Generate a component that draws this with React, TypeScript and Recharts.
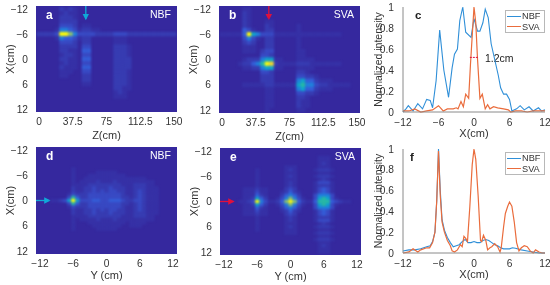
import React from "react";
import {
  ScatterChart, Scatter, LineChart, Line, XAxis, YAxis, CartesianGrid,
  ReferenceLine,
} from "recharts";

const FONT = "'Liberation Sans', Arial, sans-serif";
const TEXT = "#333333";
const NBF_COLOR = "#2f8fd8";
const SVA_COLOR = "#ea6c3c";
const CYAN = "#10a8d8";
const RED = "#e0103c";

const LEVELS: Record<string, string> = {
  "1": "#3631a6", "2": "#373cb2", "3": "#384ac4", "4": "#345ed8", "5": "#2080dc",
  "6": "#10a4cc", "7": "#28b8a4", "8": "#8cc070", "9": "#f4d82c", a: "#fbfb08",
};
const HEAT_BG = "#35289e";

const zTicks = [0, 37.5, 75, 112.5, 150];
const cmTicks = [-12, -6, 0, 6, 12];
const intensityTicks = [0, 0.2, 0.4, 0.6, 0.8, 1];

// rows run X = -12..12 in 1cm steps, columns Z = 0..150 in 5cm steps
const heatA = [
  "00000 2121 0 00 00000 0000 0000000000",
  "00000 1211 0 00 00000 0000 0000000000",
  "00000 2221 0 00 00000 0000 0000000000",
  "00000 2222 0 00 00000 0000 0000000000",
  "00000 3332 0 11 00000 0000 0000000000",
  "00001 5543 1 22 11000 0000 0000000000",
  "22223 aa85 3 33 32222 3332 2222222222",
  "00001 5443 1 22 00000 1110 0000000000",
  "00000 3332 0 22 00000 1110 0000000000",
  "00000 2222 0 33 00000 2221 0000000000",
  "00000 2211 0 44 00000 2221 0000000000",
  "00000 1221 0 33 00000 2221 0000000000",
  "00000 2211 0 44 00000 2222 0000000000",
  "00000 1211 0 33 00000 2222 0000000000",
  "00000 2111 0 44 00000 2222 0000000000",
  "00000 1110 0 33 00000 2221 0000000000",
  "00000 1100 0 22 00000 2221 0000000000",
  "00000 0000 0 22 00000 2221 0000000000",
  "00000 0000 0 11 00000 2221 0000000000",
  "00000 0000 0 00 00000 2211 0000000000",
  "00000 0000 0 00 00000 1210 0000000000",
  "00000 0000 0 00 00000 1110 0000000000",
  "00000 0000 0 00 00000 0000 0000000000",
  "00000 0000 0 00 00000 0000 0000000000",
  "00000 0000 0 00 00000 0000 0000000000",
];

const heatB = [
  "00000 1100 0 00 00000 0000 0000000000",
  "00000 2100 0 00 00000 0000 0000000000",
  "00000 2100 0 00 00000 0000 0000000000",
  "00000 2100 0 11 00000 0000 0000000000",
  "00000 2100 0 21 00000 1000 0000000000",
  "00000 4310 0 22 00000 1000 0000000000",
  "11111 4a65 3 33 11111 1111 1111110000",
  "00000 3531 0 22 00000 1000 0000000000",
  "00000 2320 0 22 00000 1000 0000000000",
  "00000 1110 0 22 00000 1000 0000000000",
  "00000 1110 2 33 00000 1100 0000000000",
  "00000 0000 3 32 00000 1100 0000000000",
  "00000 1222 5 66 11000 1111 0000000000",
  "00001 2245 7 a9 21111 2221 1111110000",
  "00000 1122 5 66 11000 1111 0000000000",
  "00000 0000 3 32 00000 2210 0000000000",
  "00000 0000 2 22 00000 3322 1000000000",
  "00000 0000 2 22 00000 5644 2111000000",
  "00000 1111 1 22 11111 6755 3221111100",
  "00000 0000 0 11 00000 5644 2111000000",
  "00000 0000 0 11 00000 3322 1000000000",
  "00000 0000 0 11 00000 2210 0000000000",
  "00000 0000 0 11 00000 2110 0000000000",
  "00000 0000 0 11 00000 2110 0000000000",
  "00000 0000 0 10 00000 1100 0000000000",
];

// rows run X = -12..12 and columns Y = -12..12, both in 0.75cm steps
const heatD = [
  "00000000000 00000000000 00000000000",
  "00000000000 00000000000 00000000000",
  "00000000000 00000000000 00000000000",
  "00000000000 00000000000 00000000000",
  "00000000000 00000000000 00000000000",
  "00000000000 00000000000 00000000000",
  "00000000100 00000000000 00000000000",
  "00000000100 00011111000 00000000000",
  "00000000100 01111111110 00000000000",
  "00000000100 11111111111 11110000000",
  "00000000101 11121112111 11111100000",
  "00000000111 12222222211 12221100000",
  "00000000211 22322232221 12221110000",
  "00000000211 22323233221 12321110000",
  "00000001322 23333333321 12321110000",
  "00000003742 23333333322 12321110000",
  "00011236a63 33443344432 23321110000",
  "00000003742 23333333322 12321110000",
  "00000001322 23333333321 12321110000",
  "00000000211 22323233221 12321110000",
  "00000000211 22322232221 12221110000",
  "00000000111 12222222211 12221100000",
  "00000000101 11121112111 11111100000",
  "00000000100 01111111110 11110000000",
  "00000000100 00111111100 11100000000",
  "00000000100 00011111000 00000000000",
  "00000000000 00000000000 00000000000",
  "00000000000 00000000000 00000000000",
  "00000000000 00000000000 00000000000",
  "00000000000 00000000000 00000000000",
  "00000000000 00000000000 00000000000",
  "00000000000 00000000000 00000000000",
  "00000000000 00000000000 00000000000",
];

const heatE = [
  "00000000000 00000000000 00000000000",
  "00000000000 00000000000 00000000000",
  "00000000000 00000000000 01110000000",
  "00000000000 00000000000 01110000000",
  "00000000000 00000000000 01210000000",
  "00000000000 00001110000 01110000000",
  "00000000100 00001210000 12221000000",
  "00000000100 00001110000 01110000000",
  "00000000100 00001210000 12221000000",
  "00000000100 00001110000 01210000000",
  "00000000100 00001210000 13331000000",
  "00000000100 00001210000 12221000000",
  "00000111211 00002320000 13431000000",
  "00000111311 00012421000 13431000000",
  "00000111421 00024542000 35553000000",
  "00000112642 00135853100 36763100000",
  "00001123a53 11248a84211 47774321100",
  "00000112642 00135853100 36763100000",
  "00000111421 00024542000 35553000000",
  "00000111311 00012421000 13431000000",
  "00000111211 00002320000 13431000000",
  "00000000100 00001210000 12221000000",
  "00000000100 00001210000 13331000000",
  "00000000100 00001110000 01210000000",
  "00000000100 00001210000 12221000000",
  "00000000100 00001110000 01110000000",
  "00000000000 00001110000 12221000000",
  "00000000000 00000000000 01110000000",
  "00000000000 00000000000 12221000000",
  "00000000000 00000000000 01110000000",
  "00000000000 00000000000 01210000000",
  "00000000000 00000000000 01110000000",
  "00000000000 00000000000 01110000000",
];

const cNbfX = [-12, -11.5, -11.1, -10.3, -9.5, -8.7, -8, -7.4, -7, -6.4, -5.8, -5.1, -4.3, -3.7, -3.3, -2.8, -2.4, -1.9, -1.4, -0.5, 0, 0.6, 1, 1.5, 1.9, 2.4, 2.9, 3.5, 4.1, 4.5, 5, 5.5, 6, 6.4, 7.2, 7.8, 8.5, 9.3, 10, 10.9, 11.4, 12];
const cNbfY = [0, 0.03, 0.06, 0.01, 0.08, 0.03, 0.12, 0.11, 0.04, 0.3, 0.78, 0.4, 0.14, 0.42, 0.55, 0.6, 0.87, 1, 0.76, 0.71, 0.89, 0.77, 0.77, 0.85, 0.98, 0.9, 0.65, 0.5, 0.35, 0.23, 0.17, 0.17, 0.12, 0.01, 0.03, 0.06, 0.02, 0.05, 0.01, 0.04, 0.01, 0.02];
const cSvaX = [-12, -11, -10, -9, -8, -7, -6, -5.2, -4.5, -3.5, -3, -2.7, -2.2, -1.8, -1.4, -0.9, -0.6, 0, 0.3, 0.6, 1, 1.4, 1.9, 2.3, 2.7, 3.3, 4, 5, 5.8, 6.2, 7, 8, 9, 10, 11, 12];
const cSvaY = [0.01, 0.01, 0.03, 0, 0.01, 0.02, 0.06, 0.01, 0.03, 0.03, 0.04, 0.03, 0.1, 0.05, 0.17, 0.13, 0.45, 1, 0.85, 0.5, 0.13, 0.17, 0.03, 0.07, 0.03, 0.05, 0.04, 0.03, 0.02, 0, 0.01, 0.01, 0, 0.01, 0.01, 0.01];
const widthX = [-0.7, 0.65];
const widthY = [0.52, 0.52];

const fNbfX = [-12, -11, -10, -9, -8, -7.4, -7, -6.6, -6.3, -6, -5.7, -5.4, -5, -4.5, -4, -3.5, -3, -2.5, -2, -1.5, -1, -0.5, 0, 0.5, 1, 1.5, 2, 2.5, 3, 3.5, 4, 4.5, 5, 6, 6.5, 7, 8, 9, 10, 11, 12];
const fNbfY = [0.02, 0.03, 0.03, 0.04, 0.06, 0.07, 0.11, 0.2, 0.5, 1, 0.6, 0.32, 0.22, 0.15, 0.1, 0.06, 0.07, 0.08, 0.11, 0.13, 0.1, 0.1, 0.11, 0.1, 0.1, 0.12, 0.13, 0.12, 0.1, 0.08, 0.07, 0.05, 0.04, 0.04, 0.05, 0.045, 0.03, 0.02, 0.01, 0, 0];
const fSvaX = [-12, -11, -10.3, -9.5, -9, -8, -7.5, -7, -6.6, -6.3, -6, -5.7, -5.4, -5, -4.5, -4, -3.7, -3.3, -2.8, -2.3, -2, -1.7, -1.4, -1.1, -0.7, -0.3, 0, 0.3, 0.7, 1.1, 1.3, 1.6, 2, 2.3, 2.7, 3, 3.5, 4, 4.4, 4.6, 5, 5.3, 5.7, 6, 6.4, 6.8, 7.2, 7.6, 8, 8.5, 9, 9.5, 10, 10.4, 11, 11.5, 12];
const fSvaY = [0, 0.01, 0.04, 0.01, 0.03, 0.05, 0.05, 0.1, 0.2, 0.5, 0.98, 0.55, 0.3, 0.2, 0.12, 0.07, 0.02, 0.01, 0.03, 0.08, 0.06, 0.16, 0.14, 0.11, 0.45, 0.85, 1, 0.9, 0.55, 0.12, 0.11, 0.17, 0.12, 0.03, 0.05, 0.06, 0.09, 0.06, 0.01, 0.05, 0.25, 0.38, 0.45, 0.49, 0.45, 0.3, 0.1, 0.02, 0.05, 0.07, 0.06, 0.02, 0, 0.03, 0.01, 0, 0];

const toPoints = (xs: number[], ys: number[]) => xs.map((x, i) => ({ x, y: ys[i] }));

function toCells(rows: string[], xStart: number, xStep: number, yStep: number) {
  const cells: { x: number; y: number; level: string }[] = [];
  rows.forEach((row, r) => {
    row.replace(/ /g, "").split("").forEach((level, c) => {
      if (level !== "0") cells.push({ x: xStart + c * xStep, y: -12 + r * yStep, level });
    });
  });
  return cells;
}

const minus = (v: number) => String(v).replace("-", "\u2212");
const tickStyle = { fontSize: 10.2, fill: TEXT, fontFamily: FONT };

const PLOT_W = 141;
const LEFT = 36;
const TOP = 6;
const BOTTOM = 34;

function AxisTitle({ x, y, rotate, children, size = 11 }: { x: number; y: number; rotate?: boolean; children: string; size?: number }) {
  return (
    <text x={x} y={y} fill={TEXT} fontSize={size} fontFamily={FONT} textAnchor="middle" dominantBaseline="central"
      transform={rotate ? `rotate(-90 ${x} ${y})` : undefined}>{children}</text>
  );
}

interface HeatProps {
  left: number; top: number; plotH: number; titleGap: number;
  rows: string[]; xDomain: [number, number]; xTicks: number[]; xStart: number; xStep: number; yStep: number;
  xLabel: string; letter: string; method: string; arrow: { x: number; y: number }[]; arrowColor: string;
}

function HeatPanel({ left, top, plotH, titleGap, rows, xDomain, xTicks, xStart, xStep, yStep, xLabel, letter, method, arrow, arrowColor }: HeatProps) {
  const yDomain: [number, number] = [-12.72, 12.72];
  const cellW = (xStep * PLOT_W) / (xDomain[1] - xDomain[0]);
  const cellH = (yStep * plotH) / (yDomain[1] - yDomain[0]);
  const markerId = "head-" + letter;
  return (
    <div style={{ position: "absolute", left: left - LEFT, top: top - TOP }}>
      <ScatterChart width={LEFT + PLOT_W + 8} height={TOP + plotH + BOTTOM} margin={{ top: TOP, right: 8, bottom: 0, left: 0 }}>
        <defs>
          <marker id={markerId} markerWidth="6" markerHeight="6" refX="4" refY="2.5" orient="auto">
            <path d="M0,0 L5,2.5 L0,5 Z" fill={arrowColor} />
          </marker>
        </defs>
        <CartesianGrid horizontal={false} vertical={false} fill={HEAT_BG} />
        <XAxis type="number" dataKey="x" domain={xDomain} ticks={xTicks} tickFormatter={minus} allowDataOverflow
          height={BOTTOM} axisLine={false} tickLine={false} tick={tickStyle} tickMargin={0} interval={0} />
        <YAxis type="number" dataKey="y" domain={yDomain} ticks={cmTicks} tickFormatter={minus} reversed allowDataOverflow
          width={LEFT} axisLine={false} tickLine={false} tick={tickStyle} tickMargin={2} interval={0} />
        <Scatter
          data={toCells(rows, xStart, xStep, yStep)}
          isAnimationActive={false}
          shape={(p: any) => (
            <rect x={p.cx - cellW / 2} y={p.cy - cellH / 2} width={cellW + 0.3} height={cellH + 0.3} fill={LEVELS[p.payload.level]} />
          )}
        />
        <ReferenceLine segment={arrow} stroke={arrowColor} strokeWidth={1.3} markerEnd={`url(#${markerId})`} ifOverflow="visible" />
        <AxisTitle x={9.5} y={TOP + plotH / 2} rotate>X(cm)</AxisTitle>
        <AxisTitle x={LEFT + PLOT_W / 2} y={TOP + plotH + titleGap}>{xLabel}</AxisTitle>
        <text x={LEFT + 10} y={TOP + 13} fill="#ffffff" fontSize={12} fontWeight="bold" fontFamily={FONT}>{letter}</text>
        <text x={LEFT + PLOT_W - 6} y={TOP + 12} fill="#ffffff" fontSize={10.5} textAnchor="end" fontFamily={FONT}>{method}</text>
      </ScatterChart>
    </div>
  );
}

function LegendBox({ left, top }: { left: number; top: number }) {
  const rows = [["NBF", NBF_COLOR], ["SVA", SVA_COLOR]];
  return (
    <div style={{ position: "absolute", left, top, border: "1px solid #b8b8b8", background: "#fff", width: 38, height: 21, fontFamily: FONT, fontSize: 9.2, color: TEXT, lineHeight: "10.5px" }}>
      {rows.map(([name, color]) => (
        <div key={name} style={{ display: "flex", alignItems: "center", height: 10.5 }}>
          <span style={{ display: "inline-block", width: 14, height: 1.3, background: color, marginRight: 1, marginLeft: 1 }} />
          {name}
        </div>
      ))}
    </div>
  );
}

interface LineProps {
  left: number; top: number; plotH: number; letter: string;
  nbf: { x: number; y: number }[]; sva: { x: number; y: number }[]; legendTop: number; width?: { x: number; y: number }[]; children?: React.ReactNode;
}

function LinePanel({ left, top, plotH, letter, nbf, sva, legendTop, width, children }: LineProps) {
  const plotW = 142;
  const yLeft = 44;
  return (
    <div style={{ position: "absolute", left: left - yLeft, top: top - TOP }}>
      <LineChart width={yLeft + plotW + 5} height={TOP + plotH + BOTTOM} margin={{ top: TOP, right: 5, bottom: 0, left: 0 }}>
        <XAxis type="number" dataKey="x" domain={[-12, 12]} ticks={cmTicks} tickFormatter={minus} allowDuplicatedCategory={false}
          height={BOTTOM} stroke="#8a8a8a" tickLine={false} tick={tickStyle} tickMargin={1} interval={0} />
        <YAxis type="number" domain={[0, 1]} ticks={intensityTicks} width={yLeft} stroke="#8a8a8a" tickLine={false} tick={tickStyle} tickMargin={3} interval={0} />
        <Line data={nbf} dataKey="y" name="NBF" type="linear" stroke={NBF_COLOR} strokeWidth={1.1} dot={false} isAnimationActive={false} />
        <Line data={sva} dataKey="y" name="SVA" type="linear" stroke={SVA_COLOR} strokeWidth={1.2} dot={false} isAnimationActive={false} />
        {width && <Line data={width} dataKey="y" name="width" type="linear" stroke={RED} strokeDasharray="2 1" dot={false} isAnimationActive={false} legendType="none" />}
        {children}
        <AxisTitle x={18.5} y={TOP + plotH / 2} rotate size={10.5}>Normalized intensity</AxisTitle>
        <AxisTitle x={yLeft + plotW / 2} y={TOP + plotH + 21}>X(cm)</AxisTitle>
        <text x={yLeft + (letter === "c" ? 12 : 7)} y={TOP + 12} fill="#222" fontSize={11.5} fontWeight="bold" fontFamily={FONT}>{letter}</text>
      </LineChart>
      <LegendBox left={yLeft + 102} top={legendTop} />
    </div>
  );
}

export default function App() {
  const panelProps = { xDomain: [-3.33, 153.33] as [number, number], xTicks: zTicks, xStart: 0, xStep: 5, yStep: 1, xLabel: "Z(cm)", titleGap: 22.5 };
  const panelPropsYX = { xDomain: [-12.72, 12.72] as [number, number], xTicks: cmTicks, xStart: -12, xStep: 0.75, yStep: 0.75, xLabel: "Y (cm)", titleGap: 21 };
  return (
    <div style={{ position: "absolute", left: 0, top: 0, width: 550, height: 285, overflow: "hidden", background: "#fff", filter: "blur(0.3px)" }}>
      <style>{".recharts-scatter{filter:blur(0.8px)}"}</style>
      <HeatPanel {...panelProps} left={36} top={6} plotH={106} rows={heatA} letter="a" method="NBF" arrowColor={CYAN}
        arrow={[{ x: 52, y: -12.72 }, { x: 52, y: -9.6 }]} />
      <HeatPanel {...panelProps} left={219} top={6} plotH={107} rows={heatB} letter="b" method="SVA" arrowColor={RED}
        arrow={[{ x: 52, y: -12.72 }, { x: 52, y: -9.6 }]} />
      <LinePanel left={403} top={7} plotH={105} letter="c" nbf={toPoints(cNbfX, cNbfY)} sva={toPoints(cSvaX, cSvaY)} width={toPoints(widthX, widthY)} legendTop={9}>
        <text x={44 + 82} y={TOP + 55} fill="#222" fontSize={10.5} fontFamily={FONT}>1.2cm</text>
      </LinePanel>
      <HeatPanel {...panelPropsYX} left={36} top={147} plotH={107} rows={heatD} letter="d" method="NBF" arrowColor={CYAN}
        arrow={[{ x: -12.72, y: 0 }, { x: -10.3, y: 0 }]} />
      <HeatPanel {...panelPropsYX} left={220} top={148} plotH={107} rows={heatE} letter="e" method="SVA" arrowColor={RED}
        arrow={[{ x: -12.72, y: 0 }, { x: -10.3, y: 0 }]} />
      <LinePanel left={403} top={149} plotH={104} letter="f" nbf={toPoints(fNbfX, fNbfY)} sva={toPoints(fSvaX, fSvaY)} legendTop={9} />
    </div>
  );
}
